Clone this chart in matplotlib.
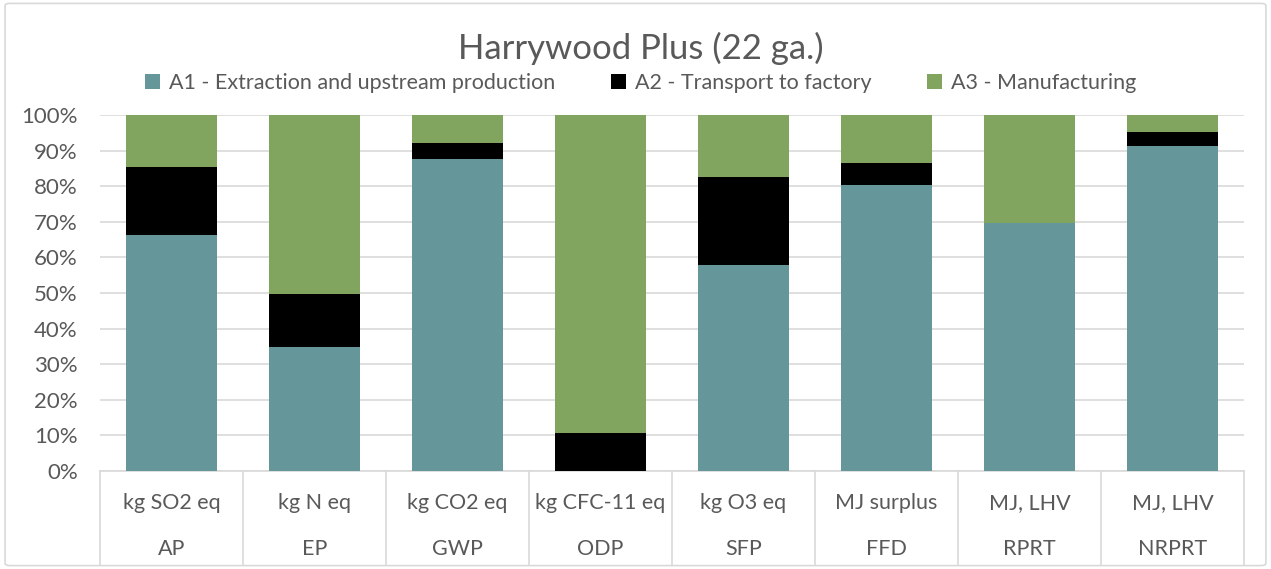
import matplotlib.pyplot as plt
import numpy as np
from matplotlib.patches import FancyBboxPatch
from matplotlib.ticker import PercentFormatter

plt.rcParams['font.family'] = ['Lato', 'DejaVu Sans']

indicators = ['AP', 'EP', 'GWP', 'ODP', 'SFP', 'FFD', 'RPRT', 'NRPRT']
units = ['kg SO2 eq', 'kg N eq', 'kg CO2 eq', 'kg CFC-11 eq', 'kg O3 eq',
         'MJ surplus', 'MJ, LHV', 'MJ, LHV']
a1 = [66.4, 34.8, 87.6, 0.0, 57.8, 80.4, 69.7, 91.4]
a2 = [18.9, 15.0, 4.4, 10.8, 24.7, 6.2, 0.0, 3.9]
a3 = [14.7, 50.2, 8.0, 89.2, 17.5, 13.4, 30.3, 4.7]
series = ['A1 - Extraction and upstream production',
          'A2 - Transport to factory',
          'A3 - Manufacturing']
colors = ['#64969a', '#000000', '#81a55e']
grey = '#595959'

fig = plt.figure(figsize=(12.71, 5.69), dpi=100)
fig.patches.append(FancyBboxPatch((0.004, 0.006), 0.992, 0.988,
                                  boxstyle='round,pad=0,rounding_size=0.004',
                                  transform=fig.transFigure, fill=False,
                                  edgecolor='#d9d9d9', linewidth=1.2))
ax = fig.add_axes([100 / 1271, 1 - 471 / 569, 1144 / 1271, 356 / 569])

x = np.arange(len(indicators))
bottom = np.zeros(len(indicators))
for vals, name, c in zip([a1, a2, a3], series, colors):
    ax.bar(x, vals, 0.64, bottom=bottom, color=c, label=name, zorder=3)
    bottom += np.array(vals)

ax.set_xlim(-0.5, len(indicators) - 0.5)
ax.set_ylim(0, 100)
ax.set_yticks(np.arange(0, 101, 10))
ax.yaxis.set_major_formatter(PercentFormatter(decimals=0))
ax.grid(axis='y', color='#d9d9d9', linewidth=1.2, zorder=0)
for s in ['top', 'right', 'left']:
    ax.spines[s].set_visible(False)
ax.spines['bottom'].set_color('#d9d9d9')
ax.spines['bottom'].set_linewidth(1.2)
ax.tick_params(axis='y', length=0, labelsize=16, labelcolor=grey, pad=16)
ax.set_xticks([])

# two-level category axis
trans = ax.get_xaxis_transform()
for i in range(len(indicators)):
    ax.text(i, -0.09, units[i], transform=trans, ha='center', va='center',
            fontsize=15.5, color=grey)
    ax.text(i, -0.22, indicators[i], transform=trans, ha='center', va='center',
            fontsize=15.5, color=grey)
for b in np.arange(-0.5, len(indicators)):
    ax.plot([b, b], [0, -0.265], transform=trans, color='#d9d9d9',
            linewidth=1.2, clip_on=False)

fig.text(0.504, 1 - 48 / 569, 'Harrywood Plus (22 ga.)', ha='center',
         va='center', fontsize=25, color=grey)
fig.legend(loc='center', bbox_to_anchor=(0.504, 1 - 83 / 569), ncol=3,
           frameon=False, fontsize=15.5, labelcolor=grey, handlelength=0.7,
           handleheight=0.7, handletextpad=0.4, columnspacing=2.6)

fig.savefig('out.png', dpi=100)
